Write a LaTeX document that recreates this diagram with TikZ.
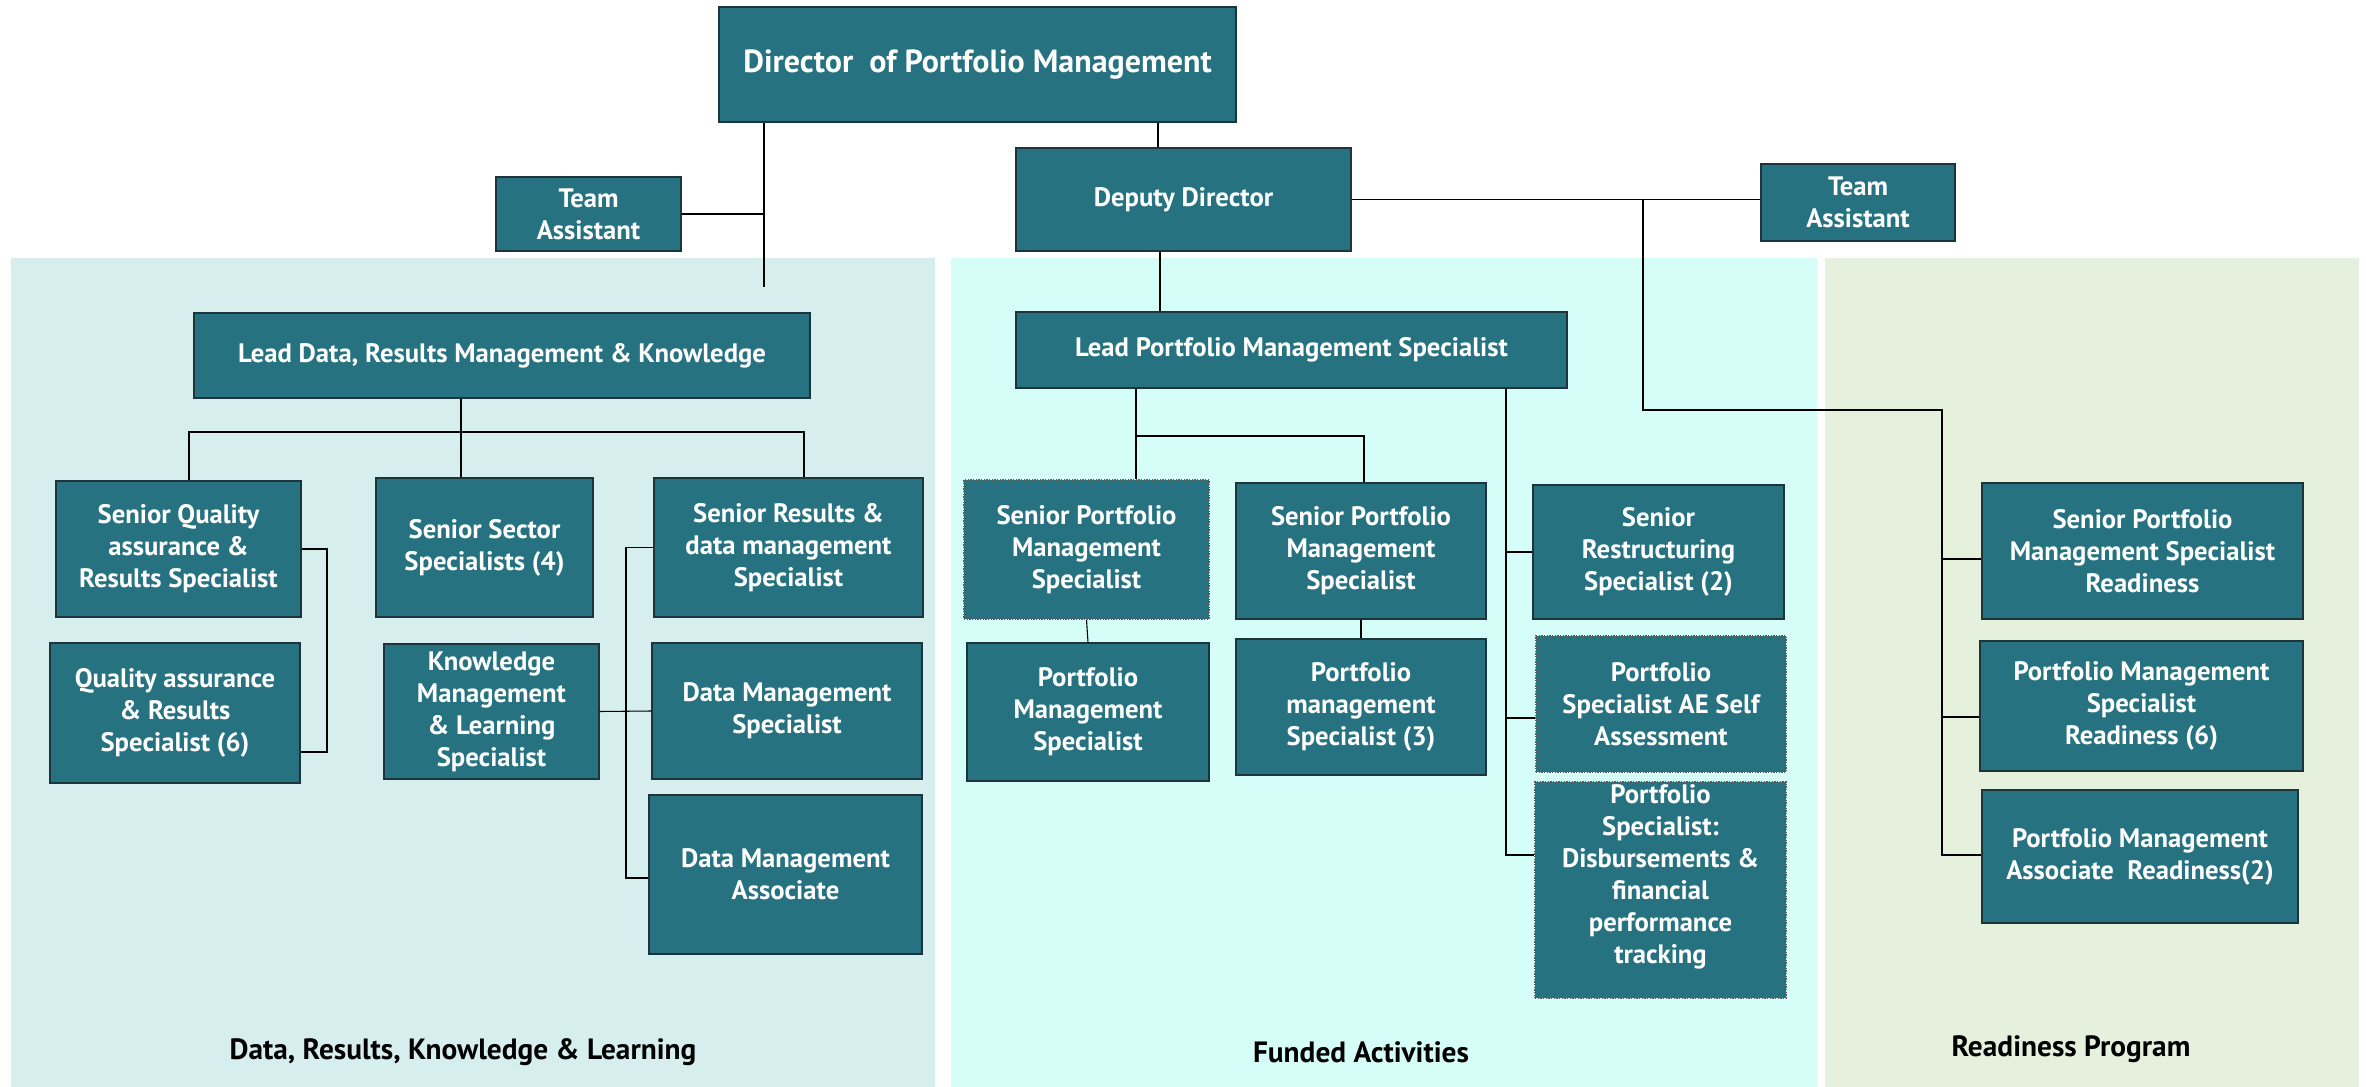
\documentclass[tikz,border=0pt]{standalone}
\usepackage{fontspec}
\setmainfont{PT Sans}
\definecolor{boxc}{RGB}{38,114,128}
\definecolor{bdr}{RGB}{28,52,58}
\definecolor{panelA}{RGB}{214,239,238}
\definecolor{panelB}{RGB}{213,254,248}
\definecolor{panelC}{RGB}{229,241,220}
\newcommand\bx[7][]{\node[box,#1,minimum width={(#5-#3)*0.75pt},minimum height={(#6-#4)*0.75pt}] (#2) at ({(#3+#5)/2},{(#4+#6)/2}) {#7};}
\begin{document}
\begin{tikzpicture}[x=0.75pt,y=-0.75pt,
  box/.style={rectangle,fill=boxc,draw=bdr,line width=1pt,text=white,align=center,inner sep=0pt,
    font=\fontsize{20}{24}\selectfont\bfseries},
  dotbox/.style={draw=gray!70!black,densely dotted},
  conn/.style={draw=black,line width=0.8pt},
  lbl/.style={font=\fontsize{22}{26}\selectfont\bfseries,text=black,inner sep=0pt}]
\useasboundingbox (0,0) rectangle (2366,1087);
\fill[white] (0,0) rectangle (2366,1087);
% panels
\fill[panelA] (11,258) rectangle (935,1087);
\fill[panelB] (951,258) rectangle (1817,1087);
\fill[panelC] (1825,258) rectangle (2359,1087);
% top level
\bx[font=\fontsize{24}{28}\selectfont\bfseries]{dir}{719}{7}{1236}{122}{Director\ \ of Portfolio Management}
\bx{taA}{496}{177}{681}{251}{Team\\Assistant}
\bx{dep}{1016}{148}{1351}{251}{Deputy Director}
\bx{taB}{1761}{164}{1955}{241}{Team\\Assistant}
\bx{ld}{194}{313}{810}{398}{Lead Data, Results Management \& Knowledge}
\bx{lpm}{1016}{312}{1567}{388}{Lead Portfolio Management Specialist}
% left panel
\bx{sq}{56}{481}{301}{617}{Senior Quality\\assurance \&\\Results Specialist}
\bx{qa}{50}{643}{300}{783}{Quality assurance\\\& Results\\Specialist (6)}
\bx{ss}{376}{478}{593}{617}{Senior Sector\\Specialists (4)}
\bx{km}{384}{644}{599}{779}{Knowledge\\Management\\\& Learning\\Specialist}
\bx{sr}{654}{478}{923}{617}{Senior Results \&\\data management\\Specialist}
\bx{dms}{652}{643}{922}{779}{Data Management\\Specialist}
\bx{dma}{649}{795}{922}{954}{Data Management\\Associate}
% middle panel
\bx[dotbox]{spmsA}{964}{480}{1209}{619}{Senior Portfolio\\Management\\Specialist}
\bx{pmsA}{967}{643}{1209}{781}{Portfolio\\Management\\Specialist}
\bx{spmsB}{1236}{483}{1486}{619}{Senior Portfolio\\Management\\Specialist}
\bx{pmsB}{1236}{639}{1486}{775}{Portfolio\\management\\Specialist (3)}
\bx{srs}{1533}{485}{1784}{619}{Senior\\Restructuring\\Specialist (2)}
\bx[dotbox]{psae}{1536}{636}{1786}{772}{Portfolio\\Specialist AE Self\\Assessment}
\bx[dotbox]{psd}{1535}{782}{1786}{998}{Portfolio\\Specialist:\\Disbursements \&\\financial\\performance\\tracking\\\mbox{}}
% right panel
\bx{spmsR}{1982}{483}{2303}{619}{Senior Portfolio\\Management Specialist\\Readiness}
\bx{pmsR}{1980}{641}{2303}{771}{Portfolio Management\\Specialist\\Readiness (6)}
\bx{pmaR}{1982}{790}{2298}{923}{Portfolio Management\\Associate\ \ Readiness(2)}
% labels
\node[lbl] (labA) at (463,1052) {Data, Results, Knowledge \& Learning};
\node[lbl] (labB) at (1361,1052) {Funded Activities};
\node[lbl] (labC) at (2071,1049) {Readiness Program};
% coordinates
\coordinate (dirL) at (764,287);
\coordinate (dirR) at (1158,0);
\coordinate (depD) at (1160,0);
\coordinate (ldb) at (461,432);
\coordinate (bl) at (189,432);
\coordinate (br) at (804,432);
\coordinate (qbr) at (327,752);
\coordinate (busA) at (626,878);
\coordinate (pA) at (1136,436);
\coordinate (pB) at (1364,436);
\coordinate (pC) at (1506,855);
\coordinate (r1) at (1643,200);
\coordinate (r2) at (1643,410);
\coordinate (r3) at (1942,410);
\coordinate (r4) at (1942,855);
% connectors
\draw[conn] (dir.south -| dirL) -- (dirL);
\draw[conn] (taA.east) -- (taA.east -| dirL);
\draw[conn] (dir.south -| dirR) -- (dep.north -| dirR);
\draw[conn] (dep.south -| depD) -- (lpm.north -| depD);
\draw[conn] (dep.east) -- (dep.east -| taB.west);
\draw[conn] (r1) -- (r2) -- (r3) -- (r4) -- (r4 -| pmaR.west);
\draw[conn] ([yshift=-6pt]spmsR.west) -- ([yshift=-6pt]spmsR.west -| r3);
\draw[conn] ([yshift=-8.25pt]pmsR.west) -- ([yshift=-8.25pt]pmsR.west -| r3);
% left panel
\draw[conn] (ld.south -| ldb) -- (ss.north -| ldb);
\draw[conn] (sq.north -| bl) -- (bl) -- (br) -- (sr.north -| br);
\draw[conn] (sq.east) -- (sq.east -| qbr) -- (qbr) -- (qbr -| qa.east);
\draw[conn] (sr.west) -- (sr.west -| busA) -- (busA) -- (busA -| dma.west);
\draw[conn] (km.east) -- (dms.west);
% middle panel
\draw[conn] (lpm.south -| pA) -- (spmsA.north -| pA);
\draw[conn] (pA) -- (pB) -- (spmsB.north -| pB);
\draw[conn] (spmsA.south) -- (pmsA.north);
\draw[conn] (spmsB.south) -- (pmsB.north);
\draw[conn] (lpm.south -| pC) -- (pC) -- (pC -| psd.west);
\draw[conn] (srs.west) -- (srs.west -| pC);
\draw[conn] ([yshift=-10.5pt]psae.west) -- ([yshift=-10.5pt]psae.west -| pC);
\end{tikzpicture}
\end{document}
